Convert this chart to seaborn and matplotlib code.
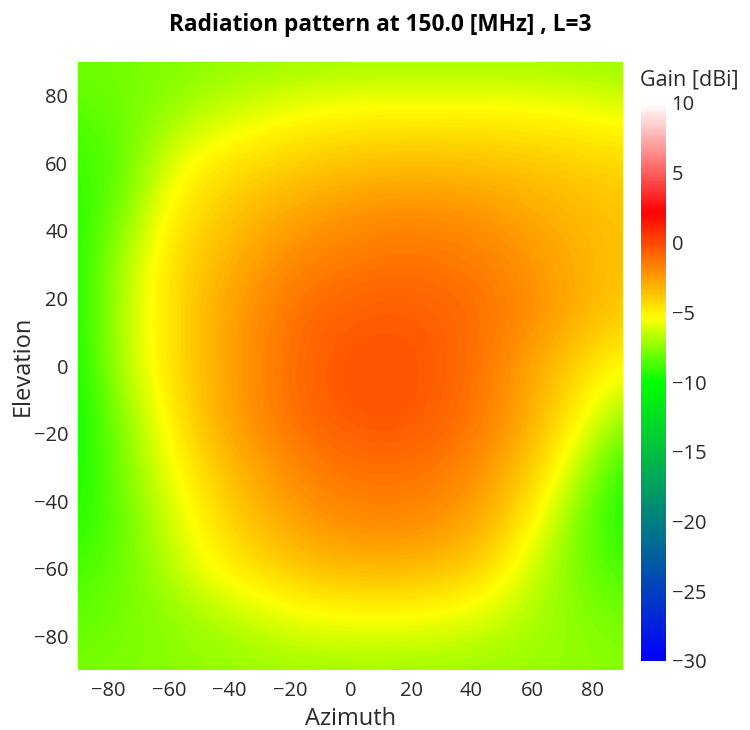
import numpy as np
import matplotlib
matplotlib.use("Agg")
import matplotlib.pyplot as plt
from matplotlib.colors import LinearSegmentedColormap
import seaborn as sns

# Sample grid of the radiation pattern (degrees)
azimuth = [-90, -75, -60, -45, -30, -15, 0, 15, 30, 45, 60, 75, 90]
elevation = [90, 75, 60, 45, 30, 15, 0, -15, -30, -45, -60, -75, -90]

# Gain [dBi], one row per elevation (top to bottom), columns follow azimuth
gain_el_p90 = [-8.0, -7.9, -7.7, -7.5, -7.4, -7.3, -7.2, -7.2, -7.2, -7.2, -7.2, -7.3, -7.4]
gain_el_p75 = [-8.5, -8.0, -7.3, -6.5, -5.9, -5.4, -5.2, -5.1, -5.1, -5.1, -5.2, -5.4, -5.8]
gain_el_p60 = [-9.0, -8.3, -6.0, -4.7, -4.3, -3.9, -3.6, -3.5, -3.5, -3.6, -3.8, -4.0, -4.2]
gain_el_p45 = [-9.3, -7.8, -5.0, -4.0, -3.2, -2.6, -2.2, -1.9, -2.0, -2.3, -2.8, -3.3, -3.7]
gain_el_p30 = [-9.5, -6.8, -4.6, -3.4, -2.4, -1.7, -1.4, -1.2, -1.3, -1.6, -2.3, -3.0, -3.6]
gain_el_p15 = [-9.6, -6.6, -4.6, -3.0, -1.9, -1.0, -0.6, -0.5, -0.7, -1.2, -2.0, -3.0, -4.0]
gain_el_0 = [-9.7, -6.7, -4.6, -3.1, -1.9, -0.8, -0.3, -0.2, -0.6, -1.5, -2.8, -4.2, -5.4]
gain_el_m15 = [-9.9, -7.5, -5.1, -3.0, -1.9, -0.9, -0.4, -0.3, -0.7, -1.6, -3.0, -5.0, -7.3]
gain_el_m30 = [-9.7, -7.8, -5.7, -3.9, -2.6, -1.7, -1.2, -1.1, -1.4, -2.3, -3.8, -6.5, -9.3]
gain_el_m45 = [-9.4, -8.2, -6.3, -4.6, -3.3, -2.4, -1.9, -1.8, -2.1, -3.0, -5.0, -7.8, -9.6]
gain_el_m60 = [-8.8, -8.0, -6.8, -5.2, -4.4, -3.6, -3.3, -3.2, -3.5, -4.3, -6.3, -7.9, -8.8]
gain_el_m75 = [-8.3, -7.9, -7.5, -7.0, -6.3, -5.8, -5.6, -5.6, -5.8, -6.2, -6.9, -7.5, -7.9]
gain_el_m90 = [-7.8, -7.7, -7.5, -7.4, -7.3, -7.2, -7.2, -7.2, -7.2, -7.3, -7.3, -7.4, -7.5]

gain_rows = [gain_el_p90, gain_el_p75, gain_el_p60, gain_el_p45, gain_el_p30,
             gain_el_p15, gain_el_0, gain_el_m15, gain_el_m30, gain_el_m45,
             gain_el_m60, gain_el_m75, gain_el_m90]

x_ticks = [-80, -60, -40, -20, 0, 20, 40, 60, 80]
y_ticks = [-80, -60, -40, -20, 0, 20, 40, 60, 80]
cbar_ticks = [10, 5, 0, -5, -10, -15, -20, -25, -30]
g_min, g_max = -30, 10

sns.set_theme(style="white")
plt.rcParams["font.family"] = ["Open Sans", "DejaVu Sans"]

# Blue -> green -> yellow -> red -> white gain scale
stops = [(-30, (0, 0, 1)), (-10, (0, 1, 0)), (-5.4, (1, 1, 0)),
         (2.2, (1, 0, 0)), (10, (1, 1, 1))]
cmap = LinearSegmentedColormap.from_list(
    "gain", [((v - g_min) / (g_max - g_min), c) for v, c in stops])

text_color = "#2a2a2a"

fig = plt.figure(figsize=(7.5, 7.3), dpi=100)
ax = fig.add_axes([78 / 750, 1 - 670 / 730, 545 / 750, 608 / 730])
cax = fig.add_axes([641 / 750, 1 - 661 / 730, 25 / 750, 558 / 730])

gain = np.array(gain_rows)
step_az = azimuth[1] - azimuth[0]
step_el = elevation[0] - elevation[1]
im = ax.imshow(
    gain[::-1], origin="lower", cmap=cmap, vmin=g_min, vmax=g_max,
    extent=(azimuth[0] - step_az / 2, azimuth[-1] + step_az / 2,
            elevation[-1] - step_el / 2, elevation[0] + step_el / 2),
    interpolation="bicubic", interpolation_stage="data", aspect="auto")
ax.set_xlim(-90, 90)
ax.set_ylim(-90, 90)

ax.set_xticks(x_ticks)
ax.set_yticks(y_ticks)
ax.tick_params(axis="both", length=0, labelsize=14.5, colors=text_color)
ax.tick_params(axis="x", pad=8)
ax.tick_params(axis="y", pad=7)
for s in ax.spines.values():
    s.set_visible(False)
ax.set_xlabel("Azimuth", fontsize=17, color=text_color, labelpad=4)
ax.set_ylabel("Elevation", fontsize=17, color=text_color, labelpad=-1)

cb = fig.colorbar(im, cax=cax)
cb.set_ticks(cbar_ticks)
cb.outline.set_visible(False)
cax.tick_params(length=0, labelsize=14.5, colors=text_color, pad=4)
fig.text(640 / 750, 1 - 80 / 730, "Gain [dBi]", fontsize=15.5, color=text_color,
         ha="left", va="center")

fig.text(380 / 750, 1 - 25 / 730, "Radiation pattern at 150.0 [MHz] , L=3",
         fontsize=16.3, fontweight="bold", color="black", ha="center", va="center")

fig.savefig("out.png", dpi=100)
